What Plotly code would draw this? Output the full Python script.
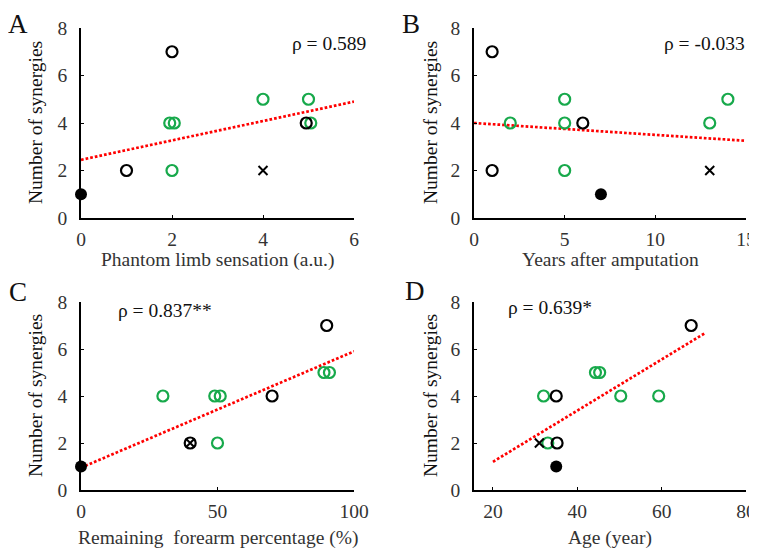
import plotly.graph_objects as go

# ---------------- data ----------------
# Panel A: phantom limb sensation
a_black_x = [2, 1, 4.95]
a_black_y = [7, 2, 4]
a_green_x = [1.95, 2.05, 2, 4, 5, 5.05]
a_green_y = [4, 4, 2, 5, 5, 4]
a_cross_x = [4]
a_cross_y = [2]
a_fill_x = [0]
a_fill_y = [1]
a_trend_x = [0, 6]
a_trend_y = [2.45, 4.9]

# Panel B: years after amputation
b_black_x = [1, 1, 6]
b_black_y = [7, 2, 4]
b_green_x = [2, 5, 5, 5, 13, 14]
b_green_y = [4, 5, 4, 2, 4, 5]
b_cross_x = [13]
b_cross_y = [2]
b_fill_x = [7]
b_fill_y = [1]
b_trend_x = [0, 15]
b_trend_y = [4.0, 3.25]

# Panel C: remaining forearm percentage
c_black_x = [90, 70, 40]
c_black_y = [7, 4, 2]
c_green_x = [30, 49, 51, 50, 89, 91]
c_green_y = [4, 4, 4, 2, 5, 5]
c_cross_x = [40]
c_cross_y = [2]
c_fill_x = [0]
c_fill_y = [1]
c_trend_x = [0, 100]
c_trend_y = [0.95, 5.9]

# Panel D: age
d_black_x = [67, 35, 35.2]
d_black_y = [7, 4, 2]
d_green_x = [32, 44.3, 45.3, 50.3, 59.3, 33]
d_green_y = [4, 5, 5, 4, 4, 2]
d_cross_x = [31]
d_cross_y = [2]
d_fill_x = [35]
d_fill_y = [1]
d_trend_x = [20, 70.5]
d_trend_y = [1.2, 6.7]

panel_letters = ["A", "B", "C", "D"]
rho_texts = ["ρ = 0.589", "ρ = -0.033", "ρ = 0.837**", "ρ = 0.639*"]
x_titles = ["Phantom limb sensation (a.u.)", "Years after amputation",
            "Remaining  forearm percentage (%)", "Age (year)"]
y_title = "Number of synergies"
x_ranges = [[0, 6], [0, 15], [0, 100], [15.5, 80]]
x_dticks = [2, 5, 50, 20]
y_range = [0, 8]
y_dtick = 2

# ---------------- layout ----------------
# The page body has an 8px default margin, so the figure is sized to fit
# the 757x550 window and positions below are given in window pixels.
WIN_W, WIN_H = 757, 550
OFF = 8
W, H = WIN_W - OFF, WIN_H - OFF
FONT = "'Times New Roman', 'Liberation Serif', 'DejaVu Serif', serif"
GREEN = "#17a94b"
RED = "#ff0000"

def px_x(p):
    return (p - OFF) / W

def px_y(p):
    return 1 - (p - OFF) / H

domains = [
    (px_x(81), px_x(354), px_y(218), px_y(28)),
    (px_x(474), px_x(746), px_y(218), px_y(28)),
    (px_x(81), px_x(354), px_y(490), px_y(302)),
    (px_x(474), px_x(746), px_y(490), px_y(302)),
]

panels = [
    (a_black_x, a_black_y, a_green_x, a_green_y, a_cross_x, a_cross_y, a_fill_x, a_fill_y, a_trend_x, a_trend_y),
    (b_black_x, b_black_y, b_green_x, b_green_y, b_cross_x, b_cross_y, b_fill_x, b_fill_y, b_trend_x, b_trend_y),
    (c_black_x, c_black_y, c_green_x, c_green_y, c_cross_x, c_cross_y, c_fill_x, c_fill_y, c_trend_x, c_trend_y),
    (d_black_x, d_black_y, d_green_x, d_green_y, d_cross_x, d_cross_y, d_fill_x, d_fill_y, d_trend_x, d_trend_y),
]

fig = go.Figure()
layout = {}
annotations = []

# (x centre, y top) of the panel letters, window pixels
letter_pos = [(18, 8), (411, 8), (18, 276), (415, 275)]
rho_pos = [("right", 368, 44), ("right", 747, 44), ("left", 116, 310), ("left", 506, 307)]
xtitle_y = [260, 260, 538, 538]
ytitle_x = [35, 430, 35, 430]

for i, (bx, by, gx, gy, xx, xy, fx, fy, tx, ty) in enumerate(panels):
    n = "" if i == 0 else str(i + 1)
    xa, ya = "x" + n, "y" + n
    x0, x1, y0, y1 = domains[i]
    fig.add_trace(go.Scatter(x=tx, y=ty, xaxis=xa, yaxis=ya, mode="lines",
                             line=dict(color=RED, width=2.7, dash="2.7px,2px"),
                             showlegend=False, hoverinfo="skip", cliponaxis=False))
    fig.add_trace(go.Scatter(x=gx, y=gy, xaxis=xa, yaxis=ya, mode="markers",
                             marker=dict(symbol="circle-open", size=11, color=GREEN,
                                         line=dict(width=2.2, color=GREEN)),
                             showlegend=False, cliponaxis=False))
    fig.add_trace(go.Scatter(x=bx, y=by, xaxis=xa, yaxis=ya, mode="markers",
                             marker=dict(symbol="circle-open", size=11, color="black",
                                         line=dict(width=2.2, color="black")),
                             showlegend=False, cliponaxis=False))
    fig.add_trace(go.Scatter(x=xx, y=xy, xaxis=xa, yaxis=ya, mode="markers",
                             marker=dict(symbol="x-thin-open", size=9, color="black",
                                         line=dict(width=2, color="black")),
                             showlegend=False, cliponaxis=False))
    fig.add_trace(go.Scatter(x=fx, y=fy, xaxis=xa, yaxis=ya, mode="markers",
                             marker=dict(symbol="circle", size=12, color="black"),
                             showlegend=False, cliponaxis=False))

    layout["xaxis" + n] = dict(domain=[x0, x1], anchor=ya, range=x_ranges[i],
                               dtick=x_dticks[i], tick0=0, showgrid=False, zeroline=False,
                               showline=True, linecolor="black", linewidth=1.5,
                               ticks="inside", ticklen=3, tickcolor="black",
                               ticklabelstandoff=3, automargin=False,
                               tickfont=dict(family=FONT, size=19.5, color="#333"))
    layout["yaxis" + n] = dict(domain=[y0, y1], anchor=xa, range=y_range,
                               dtick=y_dtick, showgrid=False, zeroline=False,
                               showline=True, linecolor="black", linewidth=1.5,
                               ticks="inside", ticklen=3, tickcolor="black",
                               ticklabelstandoff=8, automargin=False,
                               tickfont=dict(family=FONT, size=19.5, color="#333"))

    xc = (x0 + x1) / 2
    annotations.append(dict(text=x_titles[i], xref="paper", yref="paper",
                            x=xc, y=px_y(xtitle_y[i]), xanchor="center", yanchor="middle",
                            showarrow=False, font=dict(family=FONT, size=19.5, color="#333")))
    yc = (y0 + y1) / 2
    annotations.append(dict(text=y_title, xref="paper", yref="paper", textangle=-90,
                            x=px_x(ytitle_x[i]), y=yc, xanchor="center", yanchor="middle",
                            showarrow=False, font=dict(family=FONT, size=19.5, color="#111")))
    lx, ly = letter_pos[i]
    annotations.append(dict(text=panel_letters[i], xref="paper", yref="paper",
                            x=px_x(lx), y=px_y(ly), xanchor="center", yanchor="top",
                            borderpad=0,
                            showarrow=False, font=dict(family=FONT, size=27, color="#111")))
    al, rx, ry = rho_pos[i]
    annotations.append(dict(text=rho_texts[i], xref="paper", yref="paper",
                            x=px_x(rx), y=px_y(ry), xanchor=al, yanchor="middle",
                            showarrow=False, font=dict(family=FONT, size=19.5, color="#111")))

fig.update_layout(template="none", width=W, height=H,
                  margin=dict(l=0, r=0, t=0, b=0, autoexpand=False),
                  paper_bgcolor="white", plot_bgcolor="white",
                  font=dict(family=FONT),
                  annotations=annotations, showlegend=False, **layout)

fig.write_html("out.html")
